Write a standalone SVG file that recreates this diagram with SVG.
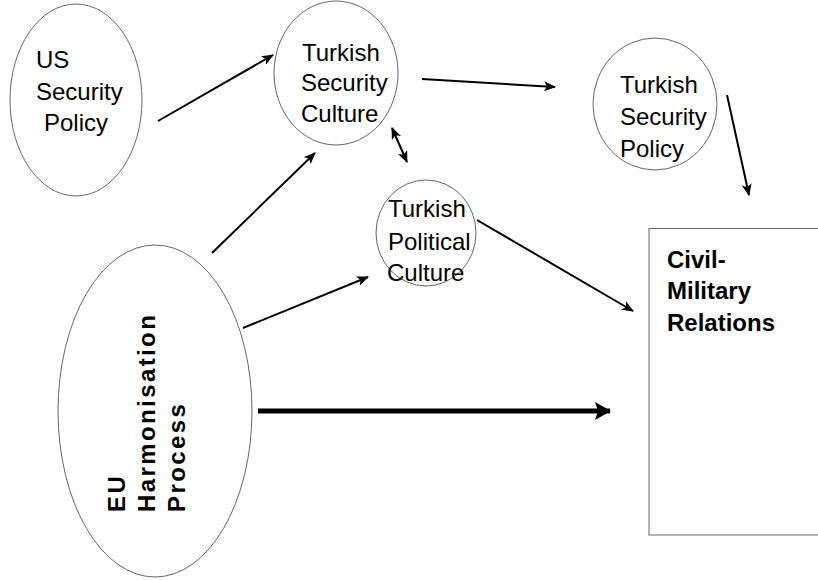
<svg xmlns="http://www.w3.org/2000/svg" width="818" height="580" viewBox="0 0 818 580">
<style>
.n{fill:#fff;stroke:#666;stroke-width:1}
.t{font-family:"Liberation Sans",Arial,sans-serif;font-size:24px;fill:#000}
.b{font-weight:bold}
.c{fill:none;stroke:#000;stroke-width:2}
.k{stroke-width:5}
</style>
<defs>
<marker id="ah" viewBox="0 0 12 10" refX="11" refY="5" markerWidth="12" markerHeight="10" markerUnits="userSpaceOnUse" orient="auto-start-reverse">
<path d="M0,0 L12,5 L0,10 L3,5 z" fill="#000"/>
</marker>
<marker id="ahb" viewBox="0 0 16 18" refX="15" refY="9" markerWidth="16" markerHeight="18" markerUnits="userSpaceOnUse" orient="auto">
<path d="M0,0 L16,9 L0,18 L3,9 z" fill="#000"/>
</marker>
</defs>
<rect width="818" height="580" fill="#fff"/>
<g id="us">
<ellipse class="n" cx="76" cy="100" rx="66" ry="96"/>
<text class="t" x="36" y="68">US</text>
<text class="t" x="36" y="100">Security</text>
<text class="t" x="44" y="131">Policy</text>
</g>
<g id="tsc">
<ellipse class="n" cx="336" cy="73" rx="62" ry="72"/>
<text class="t" x="302" y="61">Turkish</text>
<text class="t" x="301" y="91">Security</text>
<text class="t" x="301" y="122">Culture</text>
</g>
<g id="tsp">
<ellipse class="n" cx="655" cy="104" rx="62" ry="66"/>
<text class="t" x="620" y="93">Turkish</text>
<text class="t" x="620" y="125">Security</text>
<text class="t" x="620" y="157">Policy</text>
</g>
<g id="tpc">
<ellipse class="n" cx="426" cy="233" rx="50" ry="53"/>
<text class="t" x="388" y="217">Turkish</text>
<text class="t" x="388" y="250">Political</text>
<text class="t" x="387" y="281">Culture</text>
</g>
<g id="cmr">
<rect class="n" x="649" y="228.5" width="185" height="306.5"/>
<text class="t b" x="667" y="268">Civil-</text>
<text class="t b" x="667" y="299">Military</text>
<text class="t b" x="667" y="331">Relations</text>
</g>
<g id="eu">
<ellipse class="n" cx="155" cy="411" rx="97" ry="166"/>
<g class="t b" letter-spacing="2.4">
<text x="125" y="512" transform="rotate(-90 125 512)">EU</text>
<text x="155" y="512" transform="rotate(-90 155 512)">Harmonisation</text>
<text x="185" y="512" transform="rotate(-90 185 512)">Process</text>
</g>
</g>
<g id="connectors">
<line class="c" x1="158" y1="121" x2="273" y2="55" marker-end="url(#ah)"/>
<line class="c" x1="212" y1="253" x2="315" y2="153" marker-end="url(#ah)"/>
<line class="c" x1="422" y1="79" x2="555" y2="87" marker-end="url(#ah)"/>
<line class="c" x1="392" y1="128" x2="407" y2="162" marker-start="url(#ah)" marker-end="url(#ah)"/>
<line class="c" x1="727" y1="95" x2="749" y2="195" marker-end="url(#ah)"/>
<line class="c" x1="243" y1="328" x2="368" y2="277" marker-end="url(#ah)"/>
<line class="c" x1="477" y1="220" x2="633" y2="311" marker-end="url(#ah)"/>
<line class="c k" x1="258" y1="411" x2="610" y2="411" marker-end="url(#ahb)"/>
</g>
</svg>
